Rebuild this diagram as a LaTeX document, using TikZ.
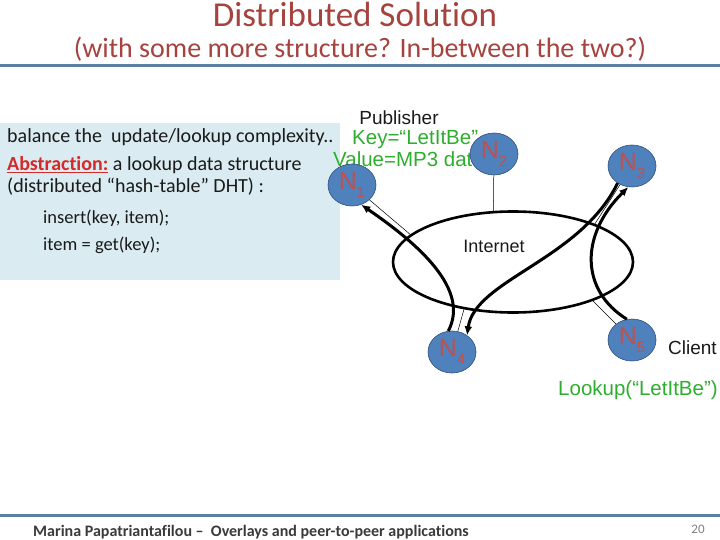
\documentclass[tikz,border=0pt]{standalone}
\usepackage{fontspec}
\setmainfont{Carlito}[Ligatures=NoCommon]
\newfontfamily\diagfont{Liberation Sans}
\usepackage{xcolor}
\usetikzlibrary{arrows.meta,shapes.geometric}
\definecolor{dhtTitle}{HTML}{A5433F}
\definecolor{dhtRule}{HTML}{5A7FA0}
\definecolor{dhtWash}{HTML}{DAEBF1}
\definecolor{dhtPeer}{HTML}{4F81BD}
\definecolor{dhtPeerLine}{HTML}{2F4F7A}
\definecolor{dhtPeerText}{HTML}{C0504D}
\definecolor{dhtGreen}{HTML}{2EAE2E}
\definecolor{dhtRed}{HTML}{D42A2A}
\definecolor{dhtInk}{HTML}{1A1A1A}
\definecolor{dhtFoot}{HTML}{3A3A3A}
\newcommand{\fsz}[1]{\fontsize{#1}{#1}\selectfont}
\newcommand{\peername}[1]{\fsz{25}N\raisebox{-8pt}{\fsz{15}#1}}
\tikzset{
  dht rule/.style={draw=dhtRule, line width=3pt},
  dht text/.style={anchor=base west, inner sep=0pt, text=dhtInk, font=\fsz{20}},
  dht code/.style={dht text, font=\fsz{18.5}},
  dht diag/.style={inner sep=0pt, text=dhtInk, font=\diagfont\fsz{19}},
  dht green/.style={dht diag, anchor=base west, text=dhtGreen, font=\diagfont\fsz{20.5}},
  dht peer/.style={ellipse, draw=dhtPeerLine, fill=dhtPeer, line width=0.6pt,
    minimum width=48pt, minimum height=42pt, inner sep=0pt, text=dhtPeerText,
    font=\diagfont},
  dht net/.style={ellipse, draw=black, line width=2.6pt,
    minimum width=240pt, minimum height=101pt},
  dht link/.style={draw=black, line width=0.5pt},
  dht route/.style={draw=black, line width=3pt,
    -{Latex[length=9pt,width=8pt]}}
}
\begin{document}
\begin{tikzpicture}[x=1pt,y=-1pt]
\useasboundingbox[fill=white] (0,0) rectangle (720,540);
% heading
\node[anchor=base, text=dhtTitle, font=\fsz{35}, inner sep=0pt] (title) at (355,27) {Distributed Solution};
\node[anchor=base, text=dhtTitle, font=\fsz{28}, inner sep=0pt] (subtitle) at (360,58)
  {(with some more structure? In-between the two?)};
\draw[dht rule] (0,65.5) -- (720,65.5);
% left panel
\fill[dhtWash] (0,123) rectangle (340,280);
\node[dht text] (balance) at (7,143) {balance the\ \ update/lookup complexity..};
\node[dht text] (abstr) at (7,171)
  {\textcolor{dhtRed}{\textbf{\underline{Abstraction:}}} a lookup data structure};
\node[dht text] (dhtline) at (7,193) {(distributed “hash-table” DHT) :};
\node[dht code] (insert) at (43,223) {insert(key, item);};
\node[dht code] (getkey) at (43,251) {item = get(key);};
% overlay network
\node[dht diag, anchor=base] (publisher) at (399,125) {Publisher};
\node[dht green] (key) at (352,145) {Key=“LetItBe”};
\node[dht green] (value) at (333,167) {Value=MP3 data};
\node[dht net] (net) at (513,262) {};
\node[dht diag, anchor=base, font=\diagfont\fsz{18}] (internet) at (494,252) {Internet};
\node[dht peer] (n1) at (352,185) {\peername{1}};
\node[dht peer] (n2) at (494,154) {\peername{2}};
\node[dht peer] (n3) at (632,166) {\peername{3}};
\node[dht peer] (n4) at (452,352) {\peername{4}};
\node[dht peer] (n5) at (632,340) {\peername{5}};
\node[dht diag, anchor=base west] (client) at (668,354) {Client};
\node[dht green] (lookup) at (558,395) {Lookup(“LetItBe”)};
\draw[dht link] (n2) -- (net.111);
\draw[dht link] (n1) -- (net.165);
\draw[dht link] (n3) -- (net.25);
\draw[dht link] (n4) -- (net.224);
\draw[dht link] (n5) -- (net.334);
% lookup route
\draw[dht route] (n4.100) .. controls (470,290) and (420,245) .. (n1.-65);
\draw[dht route] (n3.230) .. controls (580,260) and (475,280) .. (n4.48);
\draw[dht route] (n5.104) .. controls (580,290) and (580,235) .. (n3.-100);
% footer
\draw[dht rule] (0,515.5) -- (720,515.5);
\node[anchor=base west, inner sep=0pt, text=dhtFoot, font=\bfseries\fsz{16}] (foot) at (33,536)
  {Marina Papatriantafilou –\ \ Overlays and peer-to-peer applications};
\node[anchor=base, inner sep=0pt, text=gray, font=\fsz{13}] (page) at (698,533) {20};
\end{tikzpicture}
\end{document}
